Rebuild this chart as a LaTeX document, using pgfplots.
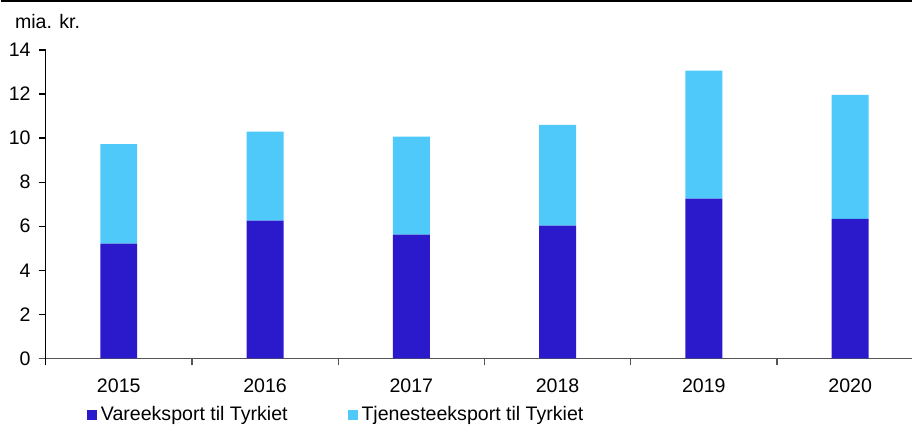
\documentclass[border=0pt]{standalone}
\usepackage{pgfplots}
\pgfplotsset{compat=1.18}
\usepackage{fontspec}
\setmainfont{Liberation Sans}
\definecolor{vare}{HTML}{2A1ACC}
\definecolor{tjen}{HTML}{4FC9FA}
\definecolor{axgray}{HTML}{555555}
\begin{document}
\begin{tikzpicture}
\begin{axis}[
    scale only axis,
    width=434pt, height=154.5pt,
    ybar stacked, bar width=18.5pt,
    xmin=-0.5, xmax=5.425,
    ymin=0, ymax=14,
    ytick={0,2,...,14},
    xtick={0,...,5},
    xticklabels={2015,2016,2017,2018,2019,2020},
    minor xtick={-0.5,0.5,1.5,2.5,3.5,4.5},
    major x tick style={draw=none},
    minor x tick style={axgray, line width=0.6pt},
    minor tick length=3.5pt,
    major tick length=3.5pt,
    tick align=outside,
    axis x line*=bottom, axis y line*=left,
    x axis line style={axgray, line width=0.6pt, shorten <=-3.5pt},
    y axis line style={black, line width=0.6pt, shorten <=-3.5pt},
    ytick style={black, line width=0.6pt},
    every axis plot/.append style={draw=none},
    font=\fontsize{9.8}{12}\selectfont,
    /pgf/number format/assume math mode=true,
    yticklabel style={anchor=east, xshift=-0.5pt},
    xticklabel style={anchor=north, yshift=-3pt},
    legend style={at={(0,0)}, anchor=north west, xshift=17.5pt, yshift=-20pt,
      draw=none, fill=none, legend columns=2,
      /tikz/every even column/.append style={column sep=28pt},
      font=\fontsize{9.8}{12}\selectfont},
    legend cell align=left,
    clip=false,
]
\addplot[fill=vare, legend image code/.code={\fill[vare] (0pt,-2.5pt) rectangle (5pt,2.5pt);}]
  coordinates {(0,5.21) (1,6.25) (2,5.62) (3,6.03) (4,7.25) (5,6.33)};
\addplot[fill=tjen, legend image code/.code={\fill[tjen] (0pt,-2.5pt) rectangle (5pt,2.5pt);}]
  coordinates {(0,4.51) (1,4.04) (2,4.44) (3,4.57) (4,5.81) (5,5.63)};
\legend{Vareeksport til Tyrkiet,Tjenesteeksport til Tyrkiet}
\end{axis}
\node[anchor=west, inner sep=0pt, font=\fontsize{9.8}{12}\selectfont] at (-15.5pt,168.5pt) {mia. kr.};
\draw[black, line width=0.7pt] (-22.5pt,179pt) -- (434pt,179pt);
\useasboundingbox (-22.5pt,-34pt) rectangle (434pt,179.5pt);
\end{tikzpicture}
\end{document}
